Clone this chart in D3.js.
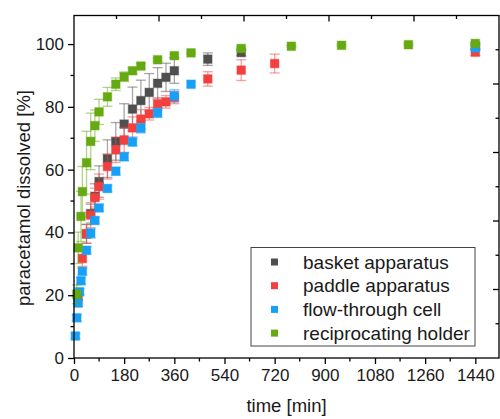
<!DOCTYPE html>
<html lang="en">
<head>
<meta charset="UTF-8">
<title>Paracetamol dissolution</title>
<style>
  body { margin: 0; background: #fff; }
  text { font-family: "Liberation Sans", Arial, sans-serif; fill: #1a1a1a; }
</style>
</head>
<body>
<div id="chart"></div>
<script src="https://cdn.jsdelivr.net/npm/d3@7/dist/d3.min.js"></script>
<script>
// data (time in min, % dissolved, error)
var basketTime = [45, 60, 75, 90, 120, 150, 180, 210, 240, 270, 300, 330, 360, 480, 600, 1440];
var basketVal  = [39.5, 46, 51.5, 56.2, 63.5, 69, 74.5, 79.3, 82, 84.6, 87.5, 89.4, 91.5, 95.2, 97.3, 99.3];
var basketErr  = [3, 3, 4, 5, 6, 6, 6.5, 7, 6.5, 6, 5, 4.5, 4, 2, 1, 1];

var paddleTime = [15, 30, 45, 60, 75, 90, 120, 150, 180, 210, 240, 270, 300, 330, 360, 480, 600, 720, 1440];
var paddleVal  = [19.5, 31.7, 39.6, 45.5, 51.1, 54.6, 61, 66.3, 69.5, 73.3, 76.1, 77.8, 80.9, 81.6, 83, 88.9, 91.7, 93.8, 97.4];
var paddleErr  = [2, 2.5, 3, 4, 3, 4, 4, 4, 4, 3.5, 3, 2, 2, 2, 2, 2.3, 3.3, 3, 1];

var flowTime = [5, 10, 15, 20, 25, 30, 45, 60, 75, 90, 120, 150, 180, 210, 240, 300, 360, 420, 1440];
var flowVal  = [7, 12.8, 17.5, 21.1, 24.6, 27.6, 34.3, 39.7, 43.8, 47.8, 54, 59.5, 64.1, 68.9, 73.2, 78.1, 83.5, 87.2, 98.8];
var flowErr  = [0.8, 1, 1, 1, 1, 1, 1.2, 1.5, 1, 1, 1, 1.2, 1.2, 1.5, 1.5, 1.5, 2, 0.8, 0.8];

var recipTime = [10, 15, 25, 30, 45, 60, 75, 90, 120, 150, 180, 210, 240, 300, 360, 420, 600, 780, 960, 1200, 1440];
var recipVal  = [20.3, 35.1, 45.1, 53, 62.2, 69, 74, 78.4, 83.2, 87.2, 89.6, 91.5, 93, 95, 96.3, 97.2, 98.6, 99.3, 99.6, 99.8, 100.2];
var recipErr  = [3, 5, 8, 8, 10, 9, 5, 4, 3, 2, 1.5, 1, 0.8, 0.5, 0.5, 0.3, 0.5, 0.3, 0.3, 0.3, 0.5];

var seriesNames  = ["basket apparatus", "paddle apparatus", "flow-through cell", "reciprocating holder"];
var seriesColors = ["#4f4f4f", "#f43f3f", "#17a0f8", "#66aa12"];

var xTicks = [0, 180, 360, 540, 720, 900, 1080, 1260, 1440];
var yTicks = [0, 20, 40, 60, 80, 100];

var series = [
  [basketTime, basketVal, basketErr],
  [paddleTime, paddleVal, paddleErr],
  [flowTime, flowVal, flowErr],
  [recipTime, recipVal, recipErr]
].map(function(s, i) {
  return {
    name: seriesNames[i],
    color: seriesColors[i],
    points: s[0].map(function(t, j) { return {t: t, v: s[1][j], e: s[2][j]}; })
  };
});

var width = 500, height = 419;
var pLeft = 74, pRight = 499, pTop = 15.5, pBottom = 358;

var svg = d3.select("#chart").append("svg")
  .attr("width", width).attr("height", height);

var x = d3.scaleLinear().domain([0, 1525]).range([pLeft, pRight]);
var y = d3.scaleLinear().domain([0, 109.1]).range([pBottom, pTop]);

// error bars + markers
series.forEach(function(s) {
  var g = svg.append("g");
  var eb = g.selectAll(".eb").data(s.points).enter().append("g")
    .attr("stroke", s.color).attr("stroke-opacity", 0.5).attr("stroke-width", 1.3);
  eb.append("line")
    .attr("x1", d => x(d.t)).attr("x2", d => x(d.t))
    .attr("y1", d => y(d.v - d.e)).attr("y2", d => y(d.v + d.e));
  eb.append("line")
    .attr("x1", d => x(d.t) - 5).attr("x2", d => x(d.t) + 5)
    .attr("y1", d => y(d.v + d.e)).attr("y2", d => y(d.v + d.e));
  eb.append("line")
    .attr("x1", d => x(d.t) - 5).attr("x2", d => x(d.t) + 5)
    .attr("y1", d => y(d.v - d.e)).attr("y2", d => y(d.v - d.e));

  g.selectAll("rect").data(s.points).enter().append("rect")
    .attr("x", d => x(d.t) - 4.3).attr("y", d => y(d.v) - 4.3)
    .attr("width", 8.6).attr("height", 8.6)
    .attr("fill", s.color)
    .attr("stroke", s.color).attr("stroke-opacity", 0.35).attr("stroke-width", 1.2);
});

// frame
svg.append("rect")
  .attr("x", pLeft).attr("y", pTop)
  .attr("width", pRight - pLeft).attr("height", pBottom - pTop)
  .attr("fill", "none").attr("stroke", "#000").attr("stroke-width", 1.3);

// bottom axis
var xAxis = d3.axisBottom(x).tickValues(xTicks).tickFormat(d3.format("d")).tickSize(6).tickPadding(5);
var gx = svg.append("g").attr("transform", "translate(0," + pBottom + ")").call(xAxis);
gx.select(".domain").remove();
gx.selectAll("text").attr("font-size", 17).attr("fill", "#1a1a1a");
gx.selectAll("line").attr("stroke-width", 1.3);
var xMinor = d3.range(90, 1530, 180);
svg.append("g").selectAll("line").data(xMinor).enter().append("line")
  .attr("x1", d => x(d)).attr("x2", d => x(d))
  .attr("y1", pBottom).attr("y2", pBottom + 3.5)
  .attr("stroke", "#000").attr("stroke-width", 1.3);

// left axis
var yAxis = d3.axisLeft(y).tickValues(yTicks).tickFormat(d3.format("d")).tickSize(6).tickPadding(4);
var gy = svg.append("g").attr("transform", "translate(" + pLeft + ",0)").call(yAxis);
gy.select(".domain").remove();
gy.selectAll("text").attr("font-size", 17).attr("fill", "#1a1a1a");
gy.selectAll("line").attr("stroke-width", 1.3);
var yMinor = d3.range(10, 109, 20);
svg.append("g").selectAll("line").data(yMinor).enter().append("line")
  .attr("x1", pLeft - 3.5).attr("x2", pLeft)
  .attr("y1", d => y(d)).attr("y2", d => y(d))
  .attr("stroke", "#000").attr("stroke-width", 1.3);

// top and right ticks (inward, ten steps across)
var xDom = x.domain(), yDom = y.domain();
d3.range(1, 10).forEach(function(i) {
  var major = i % 2 === 0;
  var xv = x(xDom[0] + (xDom[1] - xDom[0]) * i / 10);
  svg.append("line").attr("x1", xv).attr("x2", xv)
    .attr("y1", pTop).attr("y2", pTop + (major ? 6 : 3.5))
    .attr("stroke", "#000").attr("stroke-width", 1.3);
  var yv = y(yDom[0] + (yDom[1] - yDom[0]) * i / 10);
  svg.append("line").attr("x1", pRight).attr("x2", pRight - (major ? 6 : 3.5))
    .attr("y1", yv).attr("y2", yv)
    .attr("stroke", "#000").attr("stroke-width", 1.3);
});

// axis titles
svg.append("text")
  .attr("x", (pLeft + pRight) / 2).attr("y", 412)
  .attr("text-anchor", "middle").attr("font-size", 18.5)
  .text("time [min]");
svg.append("text")
  .attr("transform", "translate(30,198) rotate(-90)")
  .attr("text-anchor", "middle").attr("font-size", 18.5)
  .text("paracetamol dissolved [%]");

// legend
var lg = svg.append("g").attr("transform", "translate(251,247.5)");
lg.append("rect").attr("width", 224).attr("height", 98.5)
  .attr("fill", "#fff").attr("stroke", "#444").attr("stroke-width", 1);
series.forEach(function(s, i) {
  var row = lg.append("g").attr("transform", "translate(0," + (14.5 + i * 23.7) + ")");
  row.append("rect").attr("x", 20).attr("y", -3.5).attr("width", 7).attr("height", 7)
    .attr("fill", s.color);
  row.append("text").attr("x", 52).attr("y", 6.5).attr("font-size", 19).text(s.name);
});
</script>
</body>
</html>
